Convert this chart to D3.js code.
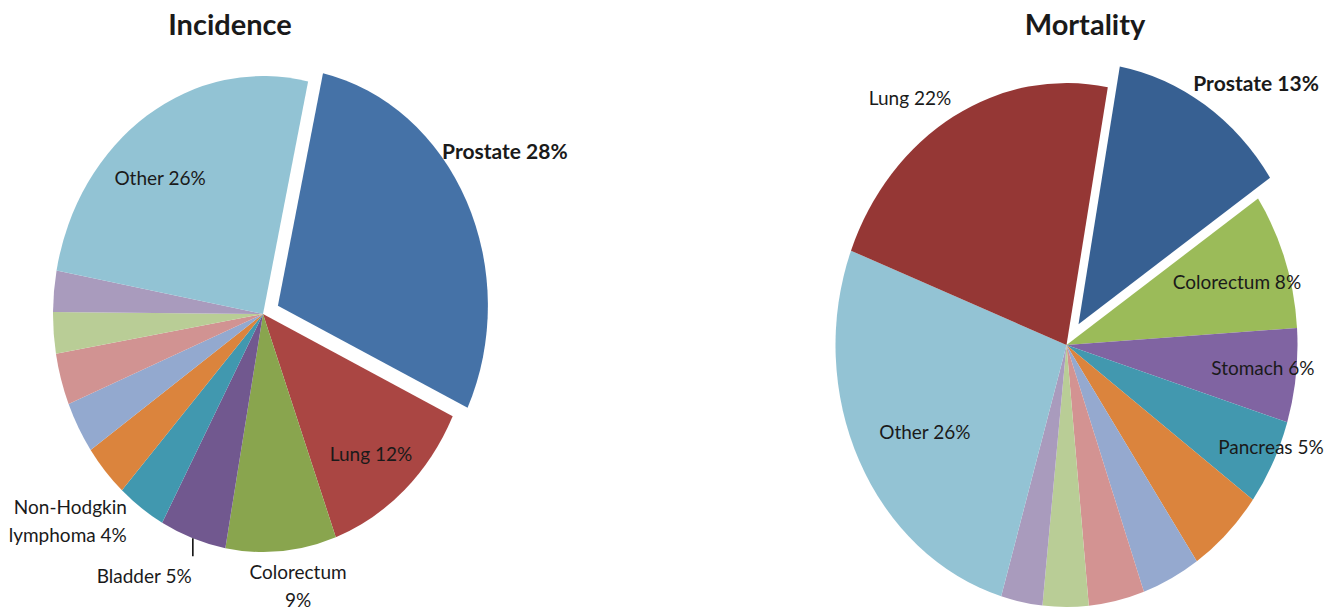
<!DOCTYPE html>
<html>
<head>
<meta charset="utf-8">
<script src="https://cdn.jsdelivr.net/npm/d3@7"></script>
<style>
  body { margin: 0; background: #fff; }
  text { font-family: Lato, "Open Sans", sans-serif; fill: #1a1a1a; }
</style>
</head>
<body>
<svg id="chart" width="1328" height="611"></svg>
<script>
// incidence slices, clockwise from the exploded one
var incCategories = ['Prostate', 'Lung', 'Colorectum', 'Bladder', 'Non-Hodgkin lymphoma', '', '', '', '', '', 'Other'];
var incValues = [28.6, 12.3, 8.5, 5.1, 3.75, 3.6, 3.5, 3.5, 2.8, 2.8, 25.5];
var incPercent = [28, 12, 9, 5, 4, null, null, null, null, null, 26];
var incColors = ['#4572A7', '#AA4643', '#89A54E', '#71588F', '#4198AF', '#DB843D',
                 '#93A9CF', '#D19392', '#B9CD96', '#A99BBD', '#92C3D4'];

// mortality slices
var mortCategories = ['Prostate', 'Colorectum', 'Stomach', 'Pancreas', '', '', '', '', '', 'Other', 'Lung'];
var mortValues = [12.7, 8.4, 5.8, 5.3, 5.4, 4.1, 3.9, 3.2, 2.9, 26.3, 22];
var mortPercent = [13, 8, 6, 5, null, null, null, null, null, 26, 22];
var mortColors = ['#376092', '#9BBB59', '#8064A2', '#4298AF', '#DB843D', '#95A9CF',
                  '#D39392', '#B9CD96', '#A99BBD', '#93C3D4', '#953735'];

/*
  label placement: [angle deg clockwise from top, radius factor, anchor, two lines]
  radius factor is relative to the ellipse radii
*/
var incLabelPos = {
  'Prostate':   [59.4, 1.338, 'middle'],
  'Lung':       [139, 0.784, 'middle'],
  'Colorectum': [171.7, 1.155, 'middle', true],
  'Bladder':    [207.2, 1.238, 'middle'],
  'Non-Hodgkin lymphoma': [216.7, 1.085, 'end', true],
  'Other':      [319.4, 0.753, 'middle']
};
var mortLabelPos = {
  'Prostate':   [39.4, 1.293, 'middle'],
  'Colorectum': [72.0, 0.776, 'middle'],
  'Stomach':    [95.9, 0.855, 'middle'],
  'Pancreas':   [113.9, 0.968, 'middle'],
  'Other':      [241.6, 0.697, 'middle'],
  'Lung':       [324.3, 1.161, 'middle']
};

var panels = [
  { title: 'Incidence', titleX: 230, cx: 263, cy: 314, rx: 210, ry: 238, start: 12.4, explode: 0.079,
    categories: incCategories, values: incValues, percent: incPercent, colors: incColors,
    labelPos: incLabelPos, leader: 'Bladder' },
  { title: 'Mortality', titleX: 1085, cx: 1066.5, cy: 345, rx: 231, ry: 262, start: 10.3, explode: 0.095,
    categories: mortCategories, values: mortValues, percent: mortPercent, colors: mortColors,
    labelPos: mortLabelPos, leader: null }
];

var svg = d3.select('#chart');
var rad = Math.PI / 180;

panels.forEach(function(p) {
  svg.append('text')
    .attr('x', p.titleX).attr('y', 25)
    .attr('dy', '0.35em')
    .attr('text-anchor', 'middle')
    .style('font-size', '29px').style('font-weight', 'bold')
    .text(p.title);

  var pie = d3.pie().sort(null)
    .startAngle(p.start * rad)
    .endAngle(p.start * rad + 2 * Math.PI);
  var arcs = pie(p.values);
  var arc = d3.arc().innerRadius(0).outerRadius(p.rx);

  // the picture is squashed into an ellipse, so scale y
  var g = svg.append('g')
    .attr('transform', 'translate(' + p.cx + ',' + p.cy + ') scale(1,' + (p.ry / p.rx) + ')');

  g.selectAll('path').data(arcs).enter().append('path')
    .attr('d', arc)
    .attr('fill', function(d, i) { return p.colors[i]; })
    .attr('transform', function(d, i) {
      if (i !== 0) return null;
      var mid = (d.startAngle + d.endAngle) / 2;
      var off = p.explode * p.rx;
      return 'translate(' + (Math.sin(mid) * off) + ',' + (-Math.cos(mid) * off) + ')';
    });

  function pt(angDeg, r) {
    return [p.cx + r * p.rx * Math.sin(angDeg * rad), p.cy - r * p.ry * Math.cos(angDeg * rad)];
  }

  arcs.forEach(function(d, i) {
    var name = p.categories[i];
    var pos = p.labelPos[name];
    if (!pos) return;
    var xy = pt(pos[0], pos[1]);
    var bold = i === 0;
    var lines;
    if (pos[3]) {
      if (name === 'Colorectum') lines = ['Colorectum', p.percent[i] + '%'];
      else lines = ['Non-Hodgkin', 'lymphoma ' + p.percent[i] + '%'];
    } else {
      lines = [name + ' ' + p.percent[i] + '%'];
    }
    var lh = 28;
    var t = svg.append('text')
      .attr('x', xy[0])
      .attr('y', xy[1] - (lines.length - 1) * lh / 2)
      .attr('text-anchor', pos[2])
      .style('font-size', bold ? '21px' : '19px')
      .style('font-weight', bold ? 'bold' : 'normal');
    lines.forEach(function(l, k) {
      t.append('tspan')
        .attr('x', xy[0])
        .attr('dy', k === 0 ? '0.35em' : lh)
        .text(l);
    });

    if (name === p.leader) {
      var mid = (d.startAngle + d.endAngle) / 2 / rad;
      var a = pt(mid, 1.0);
      svg.append('line')
        .attr('x1', a[0]).attr('y1', a[1])
        .attr('x2', a[0]).attr('y2', a[1] + 18)
        .attr('stroke', '#000').attr('stroke-width', 1.5);
    }
  });
});
</script>
</body>
</html>
